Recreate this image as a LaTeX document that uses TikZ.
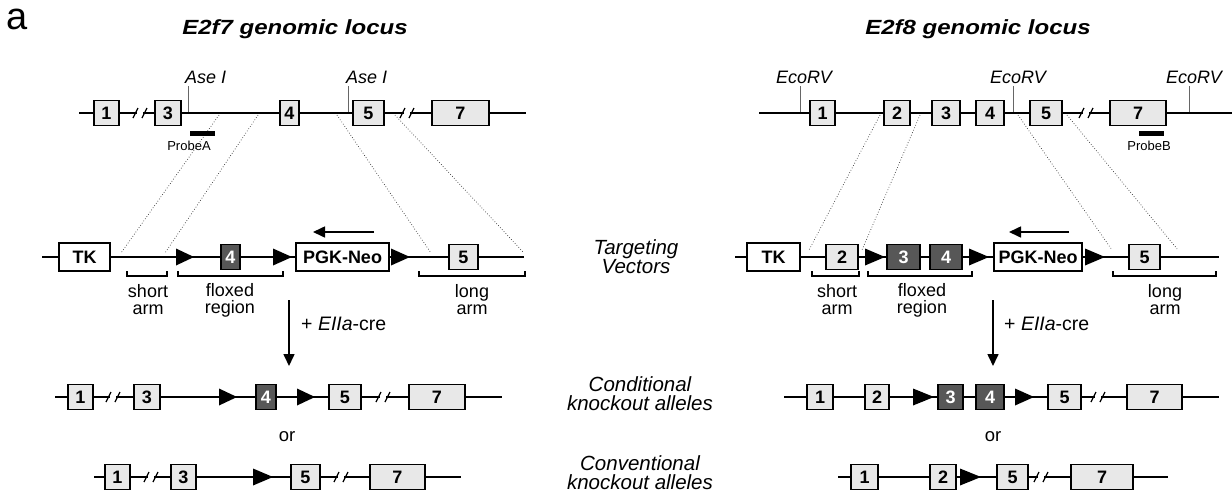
\documentclass[tikz,border=0pt]{standalone}
\usepackage{fontspec}
\usepackage{graphicx}
\setmainfont{Liberation Sans}
\usetikzlibrary{arrows.meta}
\tikzset{
  ln/.style={line width=1.6pt},
  exon/.style={draw, line width=1.4pt, fill=black!9, minimum height=25pt, inner sep=0pt, font=\fontsize{18}{18}\selectfont\bfseries},
  dexon/.style={exon, fill=black!66, text=white},
  cass/.style={draw, line width=1.4pt, fill=white, minimum height=28pt, inner sep=0pt, font=\fontsize{18}{18}\selectfont\bfseries},
  tx/.style={inner sep=0pt},
  ttl/.style={tx, xscale=1.17, font=\fontsize{20.5}{24}\selectfont\bfseries\itshape},
  site/.style={tx, anchor=base west, font=\fontsize{18}{18}\selectfont\itshape},
  mk/.style={line width=0.8pt, black!60},
  probe/.style={tx, font=\fontsize{13}{13}\selectfont},
  dot/.style={line width=0.7pt, dotted, black!80},
  brk/.style={line width=1.3pt},
  arml/.style={tx, align=center, font=\fontsize{18}{17}\selectfont},
  mid/.style={tx, align=center, font=\fontsize{20.5}{19}\selectfont\itshape},
  cre/.style={tx, anchor=west, font=\fontsize{19.5}{20}\selectfont},
  ortx/.style={tx, font=\fontsize{18.5}{19}\selectfont},
  arr/.style={line width=1.6pt, -{Triangle[length=12pt,width=11pt]}},
}
\newcommand\exon[6][exon]{\node[#1, minimum width={(#4-#3)*1pt}] (#2) at ({(#3+#4)/2},#5) {#6};}
\newcommand\cass[5]{\node[cass, minimum width={(#3-#2)*1pt}] (#1) at ({(#2+#3)/2},#4) {#5};}
\newcommand\lox[3]{\fill (#1,#3-8.5) -- (#2,#3) -- (#1,#3+8.5) -- cycle;}
\newcommand\slsh[2]{\fill[white] (#1-3,#2-2) rectangle (#1+3,#2+2);
  \draw[line width=1.2pt] (#1-7,#2+5) -- (#1-2,#2-5) (#1+2,#2+5) -- (#1+7,#2-5);}
\newcommand\bracket[3]{\draw[brk] (#1,271) |- (#2,276) -- (#2,271);}
\begin{document}
\begin{tikzpicture}[x=1pt,y=-1pt]
\useasboundingbox (0,0) rectangle (1232,496);

% panel label and titles
\node[font=\fontsize{38}{38}\selectfont] (pa) at (17,19) {a};
\node[ttl] (t7) at (295,29) {E2f7 genomic locus};
\node[ttl] (t8) at (978,29) {E2f8 genomic locus};

% ================= E2f7 genomic =================
\coordinate (g7s) at (79,113); \coordinate (g7e) at (526,113);
\draw[ln] (g7s) -- (g7e);
\coordinate (d71a) at (219,115); \coordinate (d71b) at (121,253);
\coordinate (d72a) at (258,115); \coordinate (d72b) at (165,253);
\coordinate (d73a) at (337,115); \coordinate (d73b) at (431,253);
\coordinate (d74a) at (395,115); \coordinate (d74b) at (524,253);
\draw[dot] (d71a) -- (d71b); \draw[dot] (d72a) -- (d72b);
\draw[dot] (d73a) -- (d73b); \draw[dot] (d74a) -- (d74b);
\slsh{140}{113} \slsh{407}{113}
\exon{g7x1}{94}{119}{113}{1}
\exon{g7x3}{155}{181}{113}{3}
\exon{g7x4}{280}{299}{113}{4}
\exon{g7x5}{353}{384}{113}{5}
\exon{g7x7}{432}{489}{113}{7}
\node[site] (ase1) at (185,83) {Ase I};
\node[site] (ase2) at (346,83) {Ase I};
\coordinate (m71) at (188,86); \coordinate (m71b) at (188,112);
\coordinate (m72) at (348,86); \coordinate (m72b) at (348,112);
\draw[mk] (m71) -- (m71b); \draw[mk] (m72) -- (m72b);
\fill (190,131) rectangle (215,136);
\node[probe] (pA) at (189,146) {ProbeA};

% ================= E2f7 targeting vector =================
\coordinate (v7s) at (42,257); \coordinate (v7e) at (524,257);
\draw[ln] (v7s) -- (v7e);
\cass{v7tk}{59}{110}{257}{TK}
\lox{176}{194}{257}
\exon[dexon]{v7x4}{221}{240}{257}{4}
\lox{273}{292}{257}
\cass{v7neo}{296}{389}{257}{PGK-Neo}
\lox{391}{410}{257}
\exon{v7x5}{449}{478}{257}{5}
\coordinate (a7s) at (374,232); \coordinate (a7e) at (313,232);
\draw[arr] (a7s) -- (a7e);
\bracket{127}{167}{}
\bracket{178}{283}{}
\bracket{419}{525}{}
\node[arml] (sa7) at (148,300) {short\\arm};
\node[arml] (fr7) at (230,300) {floxed\\region};
\node[arml] (la7) at (472,300) {long\\arm};
\coordinate (c7s) at (289,300); \coordinate (c7e) at (289,366);
\draw[arr] (c7s) -- (c7e);
\node[cre] (cre7) at (301,324) {+ \textit{EIIa}-cre};

% ================= E2f7 conditional =================
\coordinate (k7s) at (55,397); \coordinate (k7e) at (502,397);
\draw[ln] (k7s) -- (k7e);
\slsh{113}{397} \slsh{383}{397}
\exon{k7x1}{68}{93}{397}{1}
\exon{k7x3}{134}{160}{397}{3}
\lox{219}{237}{397}
\exon[dexon]{k7x4}{256}{276}{397}{4}
\lox{297}{315}{397}
\exon{k7x5}{329}{361}{397}{5}
\exon{k7x7}{409}{465}{397}{7}
\node[ortx] (or7) at (287,437) {or};

% ================= E2f7 conventional =================
\coordinate (n7s) at (94,477); \coordinate (n7e) at (461,477);
\draw[ln] (n7s) -- (n7e);
\slsh{151}{477} \slsh{341}{477}
\exon{n7x1}{105}{130}{477}{1}
\exon{n7x3}{171}{196}{477}{3}
\lox{253}{273}{477}
\exon{n7x5}{291}{320}{477}{5}
\exon{n7x7}{370}{425}{477}{7}

% ================= middle labels =================
\node[mid] (tv) at (636,257) {Targeting\\Vectors};
\node[mid] (ck) at (640,394) {Conditional\\knockout alleles};
\node[mid] (cv) at (640,473) {Conventional\\knockout alleles};

% ================= E2f8 genomic =================
\coordinate (g8s) at (759,113); \coordinate (g8e) at (1232,113);
\draw[ln] (g8s) -- (g8e);
\coordinate (d81a) at (880,115); \coordinate (d81b) at (809,250);
\coordinate (d82a) at (920,115); \coordinate (d82b) at (862,250);
\coordinate (d83a) at (1018,115); \coordinate (d83b) at (1112,250);
\coordinate (d84a) at (1067,115); \coordinate (d84b) at (1178,250);
\draw[dot] (d81a) -- (d81b); \draw[dot] (d82a) -- (d82b);
\draw[dot] (d83a) -- (d83b); \draw[dot] (d84a) -- (d84b);
\slsh{1086}{113}
\exon{g8x1}{810}{835}{113}{1}
\exon{g8x2}{884}{910}{113}{2}
\exon{g8x3}{932}{960}{113}{3}
\exon{g8x4}{976}{1004}{113}{4}
\exon{g8x5}{1030}{1062}{113}{5}
\exon{g8x7}{1110}{1166}{113}{7}
\node[site] (eco1) at (776,83) {EcoRV};
\node[site] (eco2) at (990,83) {EcoRV};
\node[site] (eco3) at (1166,83) {EcoRV};
\coordinate (m81) at (800,86); \coordinate (m81b) at (800,112);
\coordinate (m82) at (1013,86); \coordinate (m82b) at (1013,112);
\coordinate (m83) at (1189,86); \coordinate (m83b) at (1189,112);
\draw[mk] (m81) -- (m81b); \draw[mk] (m82) -- (m82b); \draw[mk] (m83) -- (m83b);
\fill (1139,131) rectangle (1164,136);
\node[probe] (pB) at (1149,146) {ProbeB};

% ================= E2f8 targeting vector =================
\coordinate (v8s) at (735,257); \coordinate (v8e) at (1219,257);
\draw[ln] (v8s) -- (v8e);
\cass{v8tk}{747}{800}{257}{TK}
\exon{v8x2}{826}{858}{257}{2}
\lox{865}{885}{257}
\exon[dexon]{v8x3}{887}{920}{257}{3}
\exon[dexon]{v8x4}{930}{962}{257}{4}
\lox{969}{989}{257}
\cass{v8neo}{994}{1082}{257}{PGK-Neo}
\lox{1085}{1105}{257}
\exon{v8x5}{1129}{1160}{257}{5}
\coordinate (a8s) at (1069,232); \coordinate (a8e) at (1009,232);
\draw[arr] (a8s) -- (a8e);
\bracket{812}{859}{}
\bracket{868}{972}{}
\bracket{1113}{1216}{}
\node[arml] (sa8) at (837,300) {short\\arm};
\node[arml] (fr8) at (922,300) {floxed\\region};
\node[arml] (la8) at (1165,300) {long\\arm};
\coordinate (c8s) at (993,300); \coordinate (c8e) at (993,366);
\draw[arr] (c8s) -- (c8e);
\node[cre] (cre8) at (1004,324) {+ \textit{EIIa}-cre};

% ================= E2f8 conditional =================
\coordinate (k8s) at (784,397); \coordinate (k8e) at (1219,397);
\draw[ln] (k8s) -- (k8e);
\slsh{1098}{397}
\exon{k8x1}{807}{833}{397}{1}
\exon{k8x2}{865}{889}{397}{2}
\lox{913}{934}{397}
\exon[dexon]{k8x3}{938}{963}{397}{3}
\exon[dexon]{k8x4}{976}{1004}{397}{4}
\lox{1015}{1034}{397}
\exon{k8x5}{1048}{1081}{397}{5}
\exon{k8x7}{1127}{1182}{397}{7}
\node[ortx] (or8) at (993,437) {or};

% ================= E2f8 conventional =================
\coordinate (n8s) at (838,477); \coordinate (n8e) at (1168,477);
\draw[ln] (n8s) -- (n8e);
\slsh{1041}{477}
\exon{n8x1}{851}{878}{477}{1}
\exon{n8x2}{930}{956}{477}{2}
\lox{960}{981}{477}
\exon{n8x5}{997}{1028}{477}{5}
\exon{n8x7}{1071}{1133}{477}{7}
\end{tikzpicture}
\end{document}
